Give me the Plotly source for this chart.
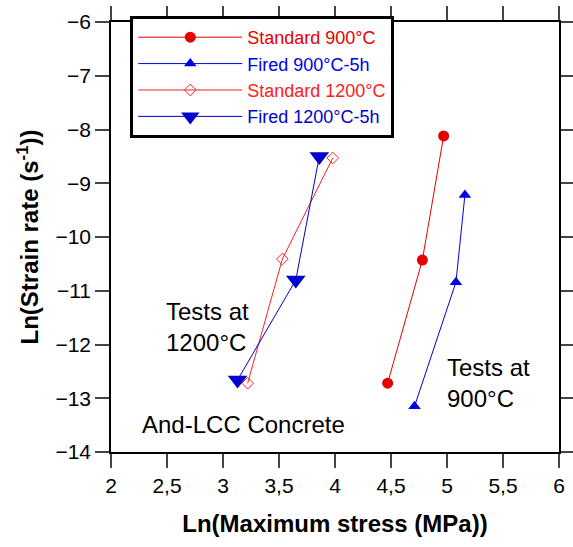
import plotly.graph_objects as go

# Data
std900_x = [4.47, 4.78, 4.97]
std900_y = [-12.72, -10.43, -8.12]
fired900_x = [4.71, 5.08, 5.16]
fired900_y = [-13.15, -10.84, -9.22]
std1200_x = [3.22, 3.53, 3.98]
std1200_y = [-12.72, -10.41, -8.53]
fired1200_x = [3.13, 3.65, 3.86]
fired1200_y = [-12.66, -10.80, -8.50]

x_ticks = [2, 2.5, 3, 3.5, 4, 4.5, 5, 5.5, 6]
y_ticks = [-14, -13, -12, -11, -10, -9, -8, -7, -6]

RED = "#e60000"
BLUE = "#0000e6"
RED2 = "#ff2020"
BLUE2 = "#0000cc"
FONT = "Arial, Liberation Sans, sans-serif"


def colored(name, color):
    return f"<span style='color:{color}'>{name}</span>"


fig = go.Figure()
fig.add_trace(go.Scatter(x=std900_x, y=std900_y, mode="lines+markers",
                         name=colored("Standard 900°C", RED),
                         line=dict(color=RED, width=1),
                         marker=dict(symbol="circle", size=11, color=RED)))
fig.add_trace(go.Scatter(x=fired900_x, y=fired900_y, mode="lines+markers",
                         name=colored("Fired 900°C-5h", BLUE),
                         line=dict(color=BLUE, width=1),
                         marker=dict(symbol="triangle-up", size=11, color=BLUE)))
fig.add_trace(go.Scatter(x=std1200_x, y=std1200_y, mode="lines+markers",
                         name=colored("Standard 1200°C", RED2),
                         line=dict(color=RED2, width=1),
                         marker=dict(symbol="diamond-open", size=9, color=RED2, line=dict(width=1))))
fig.add_trace(go.Scatter(x=fired1200_x, y=fired1200_y, mode="lines+markers",
                         name=colored("Fired 1200°C-5h", BLUE2),
                         line=dict(color=BLUE2, width=1),
                         marker=dict(symbol="triangle-down", size=17, color=BLUE2)))

ann_font = dict(family=FONT, size=24, color="black")
fig.add_annotation(x=2.47, y=-11.67, text="Tests at<br>1200°C", showarrow=False, xanchor="left",
                   align="left", font=ann_font)
fig.add_annotation(x=4.98, y=-12.72, text="Tests at<br>900°C", showarrow=False, xanchor="left",
                   align="left", font=ann_font)
fig.add_annotation(x=2.26, y=-13.48, text="And-LCC Concrete", showarrow=False, xanchor="left",
                   font=ann_font)

axis_common = dict(showline=True, linecolor="black", linewidth=1.5, mirror="ticks",
                   ticks="outside", ticklen=14, tickcolor="#444", tickwidth=1.5,
                   showgrid=False, zeroline=False, automargin=False,
                   tickfont=dict(family=FONT, size=21, color="black"))

fig.update_layout(
    width=573, height=547,
    margin=dict(l=111, r=14, t=22, b=95),
    plot_bgcolor="white", paper_bgcolor="white",
    separators=", ",
    showlegend=True,
    legend=dict(x=0.043, y=1.014, xanchor="left", yanchor="top",
                bordercolor="black", borderwidth=3, bgcolor="white",
                font=dict(family=FONT, size=18),
                itemwidth=104, tracegroupgap=0),
    xaxis=dict(range=[2, 6], tickvals=x_ticks,
               title=dict(text="<b>Ln(Maximum stress (MPa))</b>", standoff=19,
                          font=dict(family=FONT, size=24, color="black")),
               **axis_common),
    yaxis=dict(range=[-14, -6], tickvals=y_ticks,
               title=dict(text="<b>Ln(Strain rate (s<sup>-1</sup>))</b>", standoff=10,
                          font=dict(family=FONT, size=24, color="black")),
               **axis_common),
)

fig.write_html("out.html")
